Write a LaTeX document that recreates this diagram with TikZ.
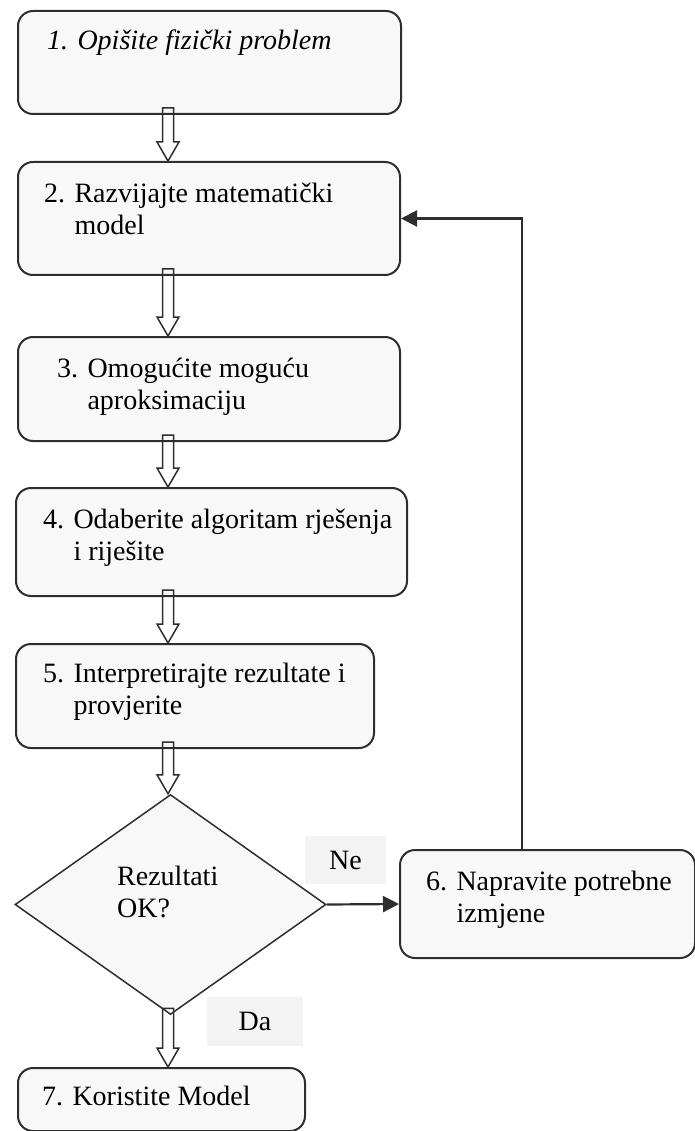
\documentclass[tikz,border=0pt]{standalone}
\usepackage{fontspec}
\setmainfont{Liberation Serif}
\usepackage{tikz}
\usetikzlibrary{
  arrows.meta,
  calc,
  shapes.geometric
}
\definecolor{boxgray}{HTML}{F8F8F8}
\definecolor{linegray}{HTML}{2E2E2E}
\definecolor{labelgray}{HTML}{F3F3F3}
\newcommand{\stepfont}{\fontsize{28pt}{32pt}\selectfont}
\newcommand{\hollow}[2]{%
  \draw [openarrow] let \p1 = (axis |- #1.south), \p2 = (axis |- #2.north) in
    (\x1-5.5pt,\y1+7pt) -- (\x1-5.5pt,\y2+19pt) -- (\x1-11pt,\y2+19pt) -- (\x2,\y2)
    -- (\x1+11pt,\y2+19pt) -- (\x1+5.5pt,\y2+19pt) -- (\x1+5.5pt,\y1+7pt) -- cycle;}
\newcommand{\numlines}[3]{\begin{tabular}[t]{@{}l@{ }l@{}}#1 & #2\\ & #3\end{tabular}}
\newcommand{\twolines}[2]{\begin{tabular}[t]{@{}l@{}}#1\\#2\end{tabular}}
\tikzset{
  stepbox/.style={
    draw=linegray,
    line width=2pt,
    fill=boxgray,
    rounded corners=15pt,
    anchor=north west,
    inner sep=0pt},
  steptext/.style={
    anchor=base west,
    inner sep=0pt,
    font=\stepfont},
  decision/.style={
    diamond,
    draw=linegray,
    line width=1.5pt,
    fill=boxgray,
    inner sep=0pt,
    minimum width=311pt,
    minimum height=220pt},
  answer/.style={
    fill=labelgray,
    inner sep=0pt,
    font=\stepfont},
  openarrow/.style={
    draw=linegray,
    line width=1.5pt,
    line join=miter},
  loopback/.style={
    -{Triangle[length=16pt,width=16pt]},
    draw=linegray,
    line width=2.2pt}
  }

\begin{document}
\begin{tikzpicture}[x=1pt, y=-1pt]
  \useasboundingbox (0,0) rectangle (695,1131);
  \coordinate (axis) at (168,0);
  \coordinate (fb) at (522,0);
  % steps
  \node [stepbox, minimum width=383pt, minimum height=103pt] (s1) at (17,10) {};
  \node [stepbox, minimum width=382pt, minimum height=113pt] (s2) at (17,161) {};
  \node [stepbox, minimum width=382pt, minimum height=104pt] (s3) at (17,336) {};
  \node [stepbox, minimum width=391pt, minimum height=108pt] (s4) at (15,487) {};
  \node [stepbox, minimum width=358pt, minimum height=104pt] (s5) at (15,643) {};
  \node [decision] (dec) at (170.5,904.5) {};
  \node [stepbox, minimum width=295pt, minimum height=108pt] (s6) at (399,849) {};
  \node [stepbox, minimum width=287pt, minimum height=63pt] (s7) at (17,1067) {};
  % texts
  \node [steptext] (t1) at (47,50) {\itshape 1. Opišite fizički problem};
  \node [steptext] (t2) at (44,203) {\numlines{2.}{Razvijajte matematički}{model}};
  \node [steptext] (t3) at (57,377) {\numlines{3.}{Omogućite moguću}{aproksimaciju}};
  \node [steptext] (t4) at (43,528) {\numlines{4.}{Odaberite algoritam rješenja}{i riješite}};
  \node [steptext] (t5) at (43,682) {\numlines{5.}{Interpretirajte rezultate i}{provjerite}};
  \node [steptext] (q) at (117,885) {\twolines{Rezultati}{OK?}};
  \node [steptext] (t6) at (426,890) {\numlines{6.}{Napravite potrebne}{izmjene}};
  \node [steptext] (t7) at (42,1105) {7. Koristite Model};
  \node [answer, minimum width=81pt, minimum height=48pt] (ne) at (345.5,860) {Ne};
  \node [answer, minimum width=96pt, minimum height=49pt] (da) at (255,1021.5) {Da};
  % flow
  \hollow{s1}{s2}
  \hollow{s2}{s3}
  \hollow{s3}{s4}
  \hollow{s4}{s5}
  \hollow{s5}{dec}
  \hollow{dec}{s7}
  \draw [loopback] (dec.east) to (s6.west);
  \draw [loopback] (s6.north -| fb) |- (s2.east);
\end{tikzpicture}
\end{document}
